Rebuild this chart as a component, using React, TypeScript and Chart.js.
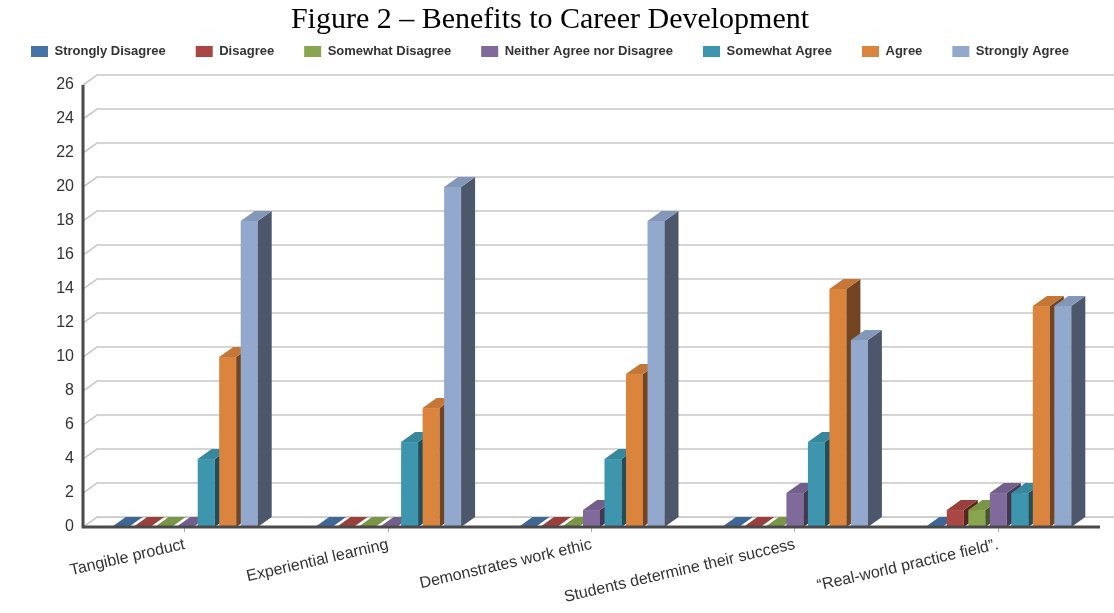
import React, { useEffect, useRef } from "react";
import { Chart, registerables } from "chart.js";

Chart.register(...registerables);

const TITLE = "Figure 2 – Benefits to Career Development";
const CATEGORIES = [
  "Tangible product",
  "Experiential learning",
  "Demonstrates work ethic",
  "Students determine their success",
  "\u201CReal-world practice field\u201D.",
];
const SERIES_NAMES = [
  "Strongly Disagree",
  "Disagree",
  "Somewhat Disagree",
  "Neither Agree nor Disagree",
  "Somewhat Agree",
  "Agree",
  "Strongly Agree",
];
const STRONGLY_DISAGREE = [0, 0, 0, 0, 0];
const DISAGREE = [0, 0, 0, 0, 1];
const SOMEWHAT_DISAGREE = [0, 0, 0, 0, 1];
const NEITHER = [0, 0, 1, 2, 2];
const SOMEWHAT_AGREE = [4, 5, 4, 5, 2];
const AGREE = [10, 7, 9, 14, 13];
const STRONGLY_AGREE = [18, 20, 18, 11, 13];
const SERIES_VALUES = [
  STRONGLY_DISAGREE,
  DISAGREE,
  SOMEWHAT_DISAGREE,
  NEITHER,
  SOMEWHAT_AGREE,
  AGREE,
  STRONGLY_AGREE,
];
const COLORS = ["#4572A7", "#AA4643", "#89A54E", "#80699B", "#3D96AE", "#DB843D", "#92A8CD"];
const Y_MIN = 0;
const Y_MAX = 26;
const Y_STEP = 2;

const DX = 14;
const DY = 10;

function shade(hex: string, f: number): string {
  const n = parseInt(hex.slice(1), 16);
  const r = Math.round(((n >> 16) & 255) * f);
  const g = Math.round(((n >> 8) & 255) * f);
  const b = Math.round((n & 255) * f);
  return `rgb(${r},${g},${b})`;
}

const threeDPlugin = {
  id: "threeD",
  beforeDatasetsDraw(chart: any) {
    const { ctx, chartArea, scales } = chart;
    const ys = scales.y;
    ctx.save();
    // back-wall grid lines
    ctx.strokeStyle = "#c8c8c8";
    ctx.lineWidth = 1.6;
    ys.ticks.forEach((t: any) => {
      const py = ys.getPixelForValue(t.value);
      ctx.beginPath();
      ctx.moveTo(chartArea.left, py);
      ctx.lineTo(chartArea.left + DX, py - DY);
      ctx.lineTo(chartArea.right + DX, py - DY);
      ctx.stroke();
    });
    // bars
    chart.data.datasets.forEach((ds: any, i: number) => {
      const meta = chart.getDatasetMeta(i);
      if (!chart.isDatasetVisible(i)) return;
      const col = COLORS[i];
      meta.data.forEach((bar: any) => {
        const p = bar.getProps(["x", "y", "base", "width"], true);
        const l = p.x - p.width / 2;
        const r = p.x + p.width / 2;
        const top = Math.min(p.y, p.base);
        const base = Math.max(p.y, p.base);
        ctx.fillStyle = col;
        ctx.fillRect(l, top, p.width, base - top);
        ctx.fillStyle = shade(col, 0.52);
        ctx.beginPath();
        ctx.moveTo(r, top);
        ctx.lineTo(r + DX, top - DY);
        ctx.lineTo(r + DX, base - DY);
        ctx.lineTo(r, base);
        ctx.closePath();
        ctx.fill();
        ctx.fillStyle = shade(col, 0.9);
        ctx.beginPath();
        ctx.moveTo(l, top);
        ctx.lineTo(r, top);
        ctx.lineTo(r + DX, top - DY);
        ctx.lineTo(l + DX, top - DY);
        ctx.closePath();
        ctx.fill();
      });
    });
    // axis lines
    ctx.strokeStyle = "#4a4a4a";
    ctx.lineWidth = 3;
    ctx.beginPath();
    ctx.moveTo(chartArea.left, ys.getPixelForValue(Y_MAX));
    ctx.lineTo(chartArea.left, chartArea.bottom);
    ctx.lineTo(chartArea.right, chartArea.bottom);
    ctx.stroke();
    ctx.restore();
    return false;
  },
};

export default function App() {
  const ref = useRef<HTMLCanvasElement | null>(null);
  useEffect(() => {
    if (!ref.current) return;
    const chart = new Chart(ref.current, {
      type: "bar",
      data: {
        labels: CATEGORIES,
        datasets: SERIES_NAMES.map((name, i) => ({
          label: name,
          data: SERIES_VALUES[i],
          backgroundColor: COLORS[i],
          borderWidth: 0,
          categoryPercentage: 0.74,
          barPercentage: 0.79,
          xAxisID: "x",
          yAxisID: "y",
        })),
      },
      options: {
        responsive: false,
        animation: false,
        devicePixelRatio: 1,
        layout: { padding: { top: 0, right: 14, bottom: 3, left: 0 } },
        plugins: {
          title: {
            display: true,
            text: TITLE,
            color: "#000",
            font: { family: "'Liberation Serif', 'Times New Roman', serif", size: 30, weight: "normal" },
            padding: { top: 2, bottom: -23 },
          },
          legend: {
            display: true,
            position: "top",
            labels: {
              boxWidth: 17,
              boxHeight: 11,
              padding: 30,
              color: "#333",
              font: { family: "'Liberation Sans', Arial, sans-serif", size: 13, weight: "bold" },
            },
          },
          tooltip: { enabled: false },
        },
        scales: {
          x: {
            grid: { display: true, drawOnChartArea: false, drawTicks: true, tickLength: 5, color: "#aaa", offset: false },
            border: { display: false },
            ticks: {
              minRotation: 13,
              maxRotation: 13,
              autoSkip: false,
              padding: 3,
              color: "#333",
              font: { family: "'Liberation Sans', Arial, sans-serif", size: 16 },
            },
          },
          y: {
            min: Y_MIN,
            max: Y_MAX,
            grid: { display: false, drawTicks: false },
            border: { display: false },
            ticks: {
              stepSize: Y_STEP,
              padding: 9,
              color: "#333",
              font: { family: "'Liberation Sans', Arial, sans-serif", size: 16 },
            },
            afterFit: (s: any) => {
              s.width = 83;
            },
          },
          spacer: {
            type: "category",
            position: "top",
            display: true,
            grid: { display: false, drawTicks: false },
            border: { display: false },
            ticks: { display: false },
            afterFit: (s: any) => {
              s.height = 17;
            },
          },
        },
      },
      plugins: [threeDPlugin],
    });
    return () => chart.destroy();
  }, []);
  return (
    <div style={{ position: "absolute", left: 0, top: 0, width: 1114, height: 613, background: "#fff" }}>
      <canvas ref={ref} width={1114} height={613} />
    </div>
  );
}
